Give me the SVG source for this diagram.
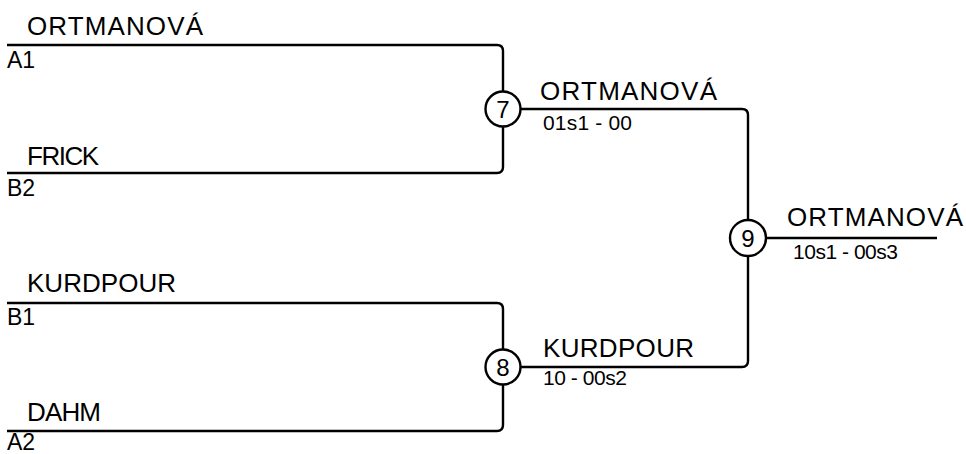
<svg xmlns="http://www.w3.org/2000/svg" width="966" height="454" viewBox="0 0 966 454">
<style>
.ln{fill:none;stroke:#000;stroke-width:2.4}
.c{fill:#fff;stroke:#000;stroke-width:2.4}
.nm{font-family:"Liberation Sans",Arial,sans-serif;font-size:26px;fill:#000}
.cd{font-family:"Liberation Sans",Arial,sans-serif;font-size:23px;fill:#000}
.sc{font-family:"Liberation Sans",Arial,sans-serif;font-size:21px;fill:#000}
.num{font-family:"Liberation Sans",Arial,sans-serif;font-size:24px;fill:#000;text-anchor:middle}
</style>
<g id="connectors">
<path class="ln" d="M7,45 H497 Q503,45 503,51 V167 Q503,173 497,173 H7"/>
<path class="ln" d="M7,303 H497 Q503,303 503,309 V425 Q503,431 497,431 H7"/>
<path class="ln" d="M503,109 H742 Q748,109 748,115 V361 Q748,367 742,367 H503"/>
<path class="ln" d="M748,238 H937"/>
</g>
<g id="entry-A1">
<text class="nm" x="27" y="35" textLength="176" lengthAdjust="spacing">ORTMANOVÁ</text>
<text class="cd" x="7" y="68">A1</text>
</g>
<g id="entry-B2">
<text class="nm" x="27" y="165" textLength="72" lengthAdjust="spacing">FRICK</text>
<text class="cd" x="7" y="196">B2</text>
</g>
<g id="entry-B1">
<text class="nm" x="27" y="292" textLength="149" lengthAdjust="spacing">KURDPOUR</text>
<text class="cd" x="7" y="325">B1</text>
</g>
<g id="entry-A2">
<text class="nm" x="27" y="421" textLength="74" lengthAdjust="spacing">DAHM</text>
<text class="cd" x="7" y="450">A2</text>
</g>
<g id="match-7">
<circle class="c" cx="503" cy="109" r="17.5"/>
<text class="num" x="503" y="118">7</text>
<text class="nm" x="540" y="100" textLength="177" lengthAdjust="spacing">ORTMANOVÁ</text>
<text class="sc" x="543" y="130" textLength="89" lengthAdjust="spacing">01s1 - 00</text>
</g>
<g id="match-8">
<circle class="c" cx="503" cy="367" r="17.5"/>
<text class="num" x="503" y="376">8</text>
<text class="nm" x="543" y="357" textLength="151" lengthAdjust="spacing">KURDPOUR</text>
<text class="sc" x="543" y="385" textLength="84" lengthAdjust="spacing">10 - 00s2</text>
</g>
<g id="match-9">
<circle class="c" cx="748" cy="238" r="18"/>
<text class="num" x="748" y="247">9</text>
<text class="nm" x="787" y="226" textLength="176" lengthAdjust="spacing">ORTMANOVÁ</text>
<text class="sc" x="793" y="259" textLength="105" lengthAdjust="spacing">10s1 - 00s3</text>
</g>
</svg>
